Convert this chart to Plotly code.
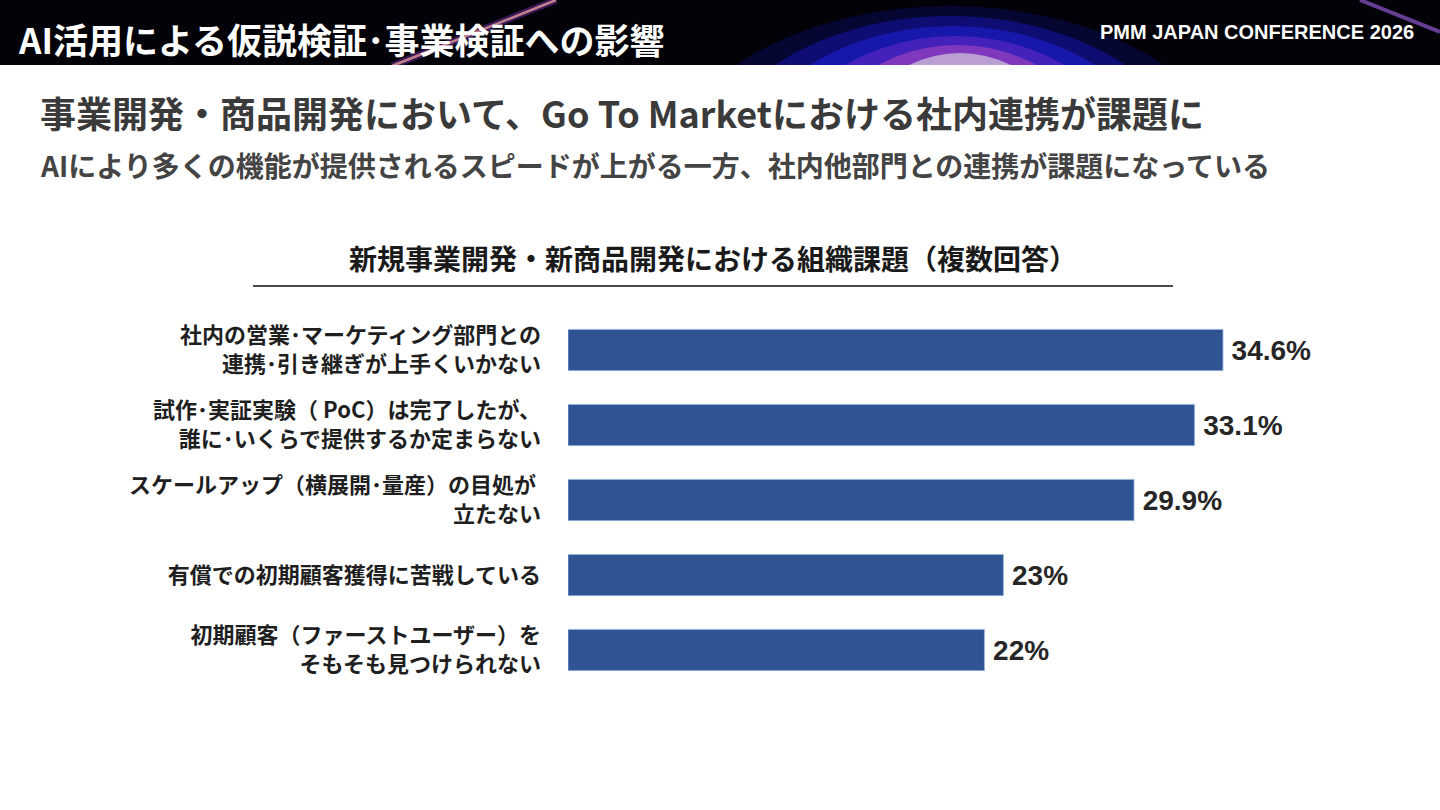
import plotly.graph_objects as go

W, H = 1440, 810

categories = [
    '社内の営業･マーケティング部門との<br>連携･引き継ぎが上手くいかない',
    '試作･実証実験（ PoC）は完了したが、<br>誰に･いくらで提供するか定まらない',
    'スケールアップ（横展開･量産）の目処が <br>立たない',
    '有償での初期顧客獲得に苦戦している',
    '初期顧客（ファーストユーザー）を<br>そもそも見つけられない',
]
values = [34.6, 33.1, 29.9, 23, 22]
value_labels = [f'\u2009{v:g}%' for v in values]

header_title = 'AI活用による仮説検証･事業検証への影響'
header_right = 'PMM JAPAN CONFERENCE 2026'
headline = '事業開発・商品開発において、Go To Marketにおける社内連携が課題に'
subline = 'AIにより多くの機能が提供されるスピードが上がる一方、社内他部門との連携が課題になっている'
chart_title = '新規事業開発・新商品開発における組織課題（複数回答）'

JP = 'Noto Sans CJK JP'
BAR = '#2e5494'


def px_x(p):
    return p / W


def px_y(p):
    return 1 - p / H


fig = go.Figure(go.Bar(
    x=values,
    y=categories,
    orientation='h',
    marker=dict(color=BAR, line=dict(color='#9db7e0', width=0.8)),
    text=value_labels,
    textposition='outside',
    textfont=dict(family='Liberation Sans', size=28, color='#262626', weight='bold'),
    cliponaxis=False,
    hoverinfo='skip',
))

# header banner: black strip, soft glow from stacked ellipses, two light streaks
glow = [
    (650, 1250, 6, 400, '#08083e', 0.8),
    (690, 1210, 16, 390, '#10108a', 0.75),
    (725, 1180, 26, 380, '#1e1ed0', 0.6),
    (760, 1150, 36, 370, '#6a2ac8', 0.55),
    (795, 1120, 45, 362, '#b04cbf', 0.55),
    (830, 1090, 53, 355, '#c4b0d8', 0.85),
]
shapes = [dict(type='rect', x0=0, x1=1, y0=px_y(65), y1=1, fillcolor='#020208', line_width=0)]
for x0, x1, y0, y1, col, op in glow:
    shapes.append(dict(type='circle', x0=px_x(x0), x1=px_x(x1), y0=px_y(y1), y1=px_y(y0),
                       fillcolor=col, opacity=op, line_width=0))
shapes += [
    dict(type='line', x0=px_x(392), x1=px_x(556), y0=px_y(66), y1=px_y(0),
         line=dict(color='#8a3cc8', width=7), opacity=0.4),
    dict(type='line', x0=px_x(392), x1=px_x(556), y0=px_y(66), y1=px_y(0),
         line=dict(color='#e59a9a', width=2.5), opacity=0.8),
    dict(type='line', x0=px_x(1360), x1=px_x(1440), y0=px_y(0), y1=px_y(32),
         line=dict(color='#9a5fe0', width=4), opacity=0.65),
    dict(type='rect', x0=0, x1=1, y0=0, y1=px_y(65), fillcolor='white', line_width=0),
    # rule under the chart title
    dict(type='line', x0=px_x(253), x1=px_x(1173), y0=px_y(286), y1=px_y(286),
         line=dict(color='#4a4a4a', width=2)),
]
for s in shapes:
    s.update(xref='paper', yref='paper', layer='below')

annotations = [
    dict(text=header_title, x=px_x(16), y=px_y(38), xanchor='left', yanchor='middle',
         font=dict(family=JP, size=35, color='white', weight='bold')),
    dict(text=header_right, x=px_x(1416), y=px_y(32), xanchor='right', yanchor='middle',
         font=dict(family='Liberation Sans', size=20, color='white', weight='bold')),
    dict(text=headline, x=px_x(38), y=px_y(112), xanchor='left', yanchor='middle',
         font=dict(family=JP, size=36, color='#3a3a3a', weight='bold')),
    dict(text=subline, x=px_x(38), y=px_y(165), xanchor='left', yanchor='middle',
         font=dict(family=JP, size=28, color='#444444', weight='bold')),
    dict(text=chart_title, x=px_x(713), y=px_y(258), xanchor='center', yanchor='middle',
         font=dict(family=JP, size=28, color='#1a1a1a', weight='bold')),
]
for a in annotations:
    a.update(xref='paper', yref='paper', showarrow=False)

plot_left, plot_right = 568, 1340
px_per_unit = (1223 - 568) / 34.6

fig.update_layout(
    width=W,
    height=H,
    margin=dict(l=0, r=0, t=0, b=0),
    paper_bgcolor='white',
    plot_bgcolor='rgba(0,0,0,0)',
    showlegend=False,
    bargap=0.45,
    shapes=shapes,
    annotations=annotations,
    xaxis=dict(
        domain=[px_x(plot_left), px_x(plot_right)],
        range=[0, (plot_right - plot_left) / px_per_unit],
        visible=False,
        fixedrange=True,
    ),
    yaxis=dict(
        domain=[px_y(687.5), px_y(312.5)],
        autorange='reversed',
        showgrid=False,
        zeroline=False,
        showline=False,
        ticks='',
        automargin=False,
        ticklabelstandoff=26,
        tickfont=dict(family=JP, size=22, color='#1f1f1f', weight='bold'),
        fixedrange=True,
    ),
)

fig.write_html('out.html', config={'displayModeBar': False},
               post_script="document.body.style.margin='0';")
